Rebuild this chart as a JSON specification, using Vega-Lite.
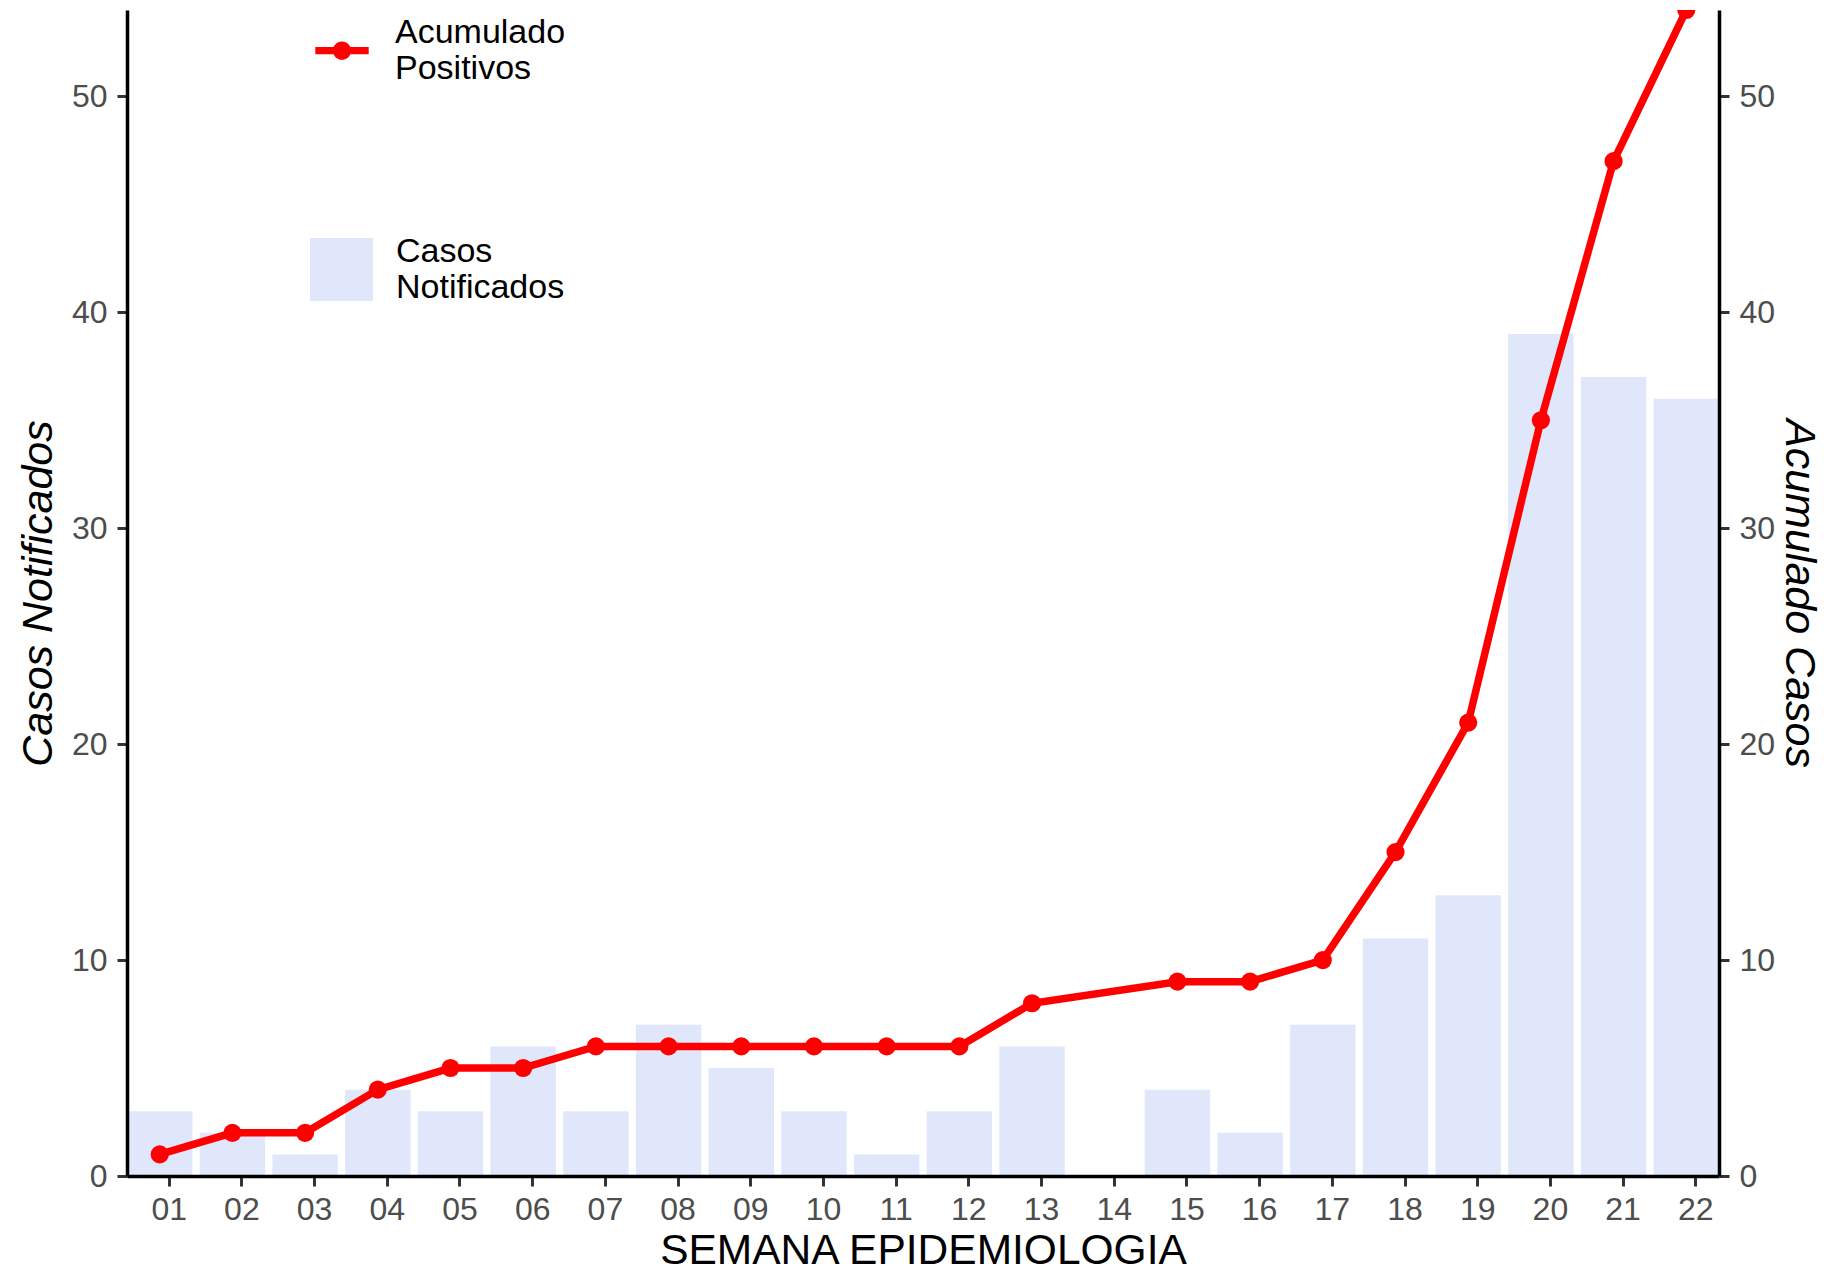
{
  "$schema": "https://vega.github.io/schema/vega-lite/v6.json",
  "width": 1592,
  "height": 1166,
  "autosize": {"type": "none"},
  "padding": {"left": 127, "top": 10, "right": 119, "bottom": 94},
  "background": "white",
  "config": {
    "view": {"stroke": null},
    "font": "Liberation Sans",
    "axis": {
      "domainColor": "black",
      "domainWidth": 3.5,
      "tickColor": "#333333",
      "tickWidth": 3,
      "tickSize": 10,
      "labelColor": "#4D4D4D",
      "labelFont": "Liberation Sans",
      "labelFontSize": 32,
      "titleFont": "Liberation Sans",
      "titleColor": "black",
      "titleFontWeight": "normal",
      "titleFontSize": 43,
      "grid": false,
      "zindex": 1
    },
    "legend": {
      "labelFont": "Liberation Sans",
      "labelFontSize": 34,
      "labelColor": "black",
      "labelLimit": 600,
      "padding": 0
    }
  },
  "data": {
    "values": [
      {"semana": "01", "casos": 3, "acumulado": 1},
      {"semana": "02", "casos": 2, "acumulado": 2},
      {"semana": "03", "casos": 1, "acumulado": 2},
      {"semana": "04", "casos": 4, "acumulado": 4},
      {"semana": "05", "casos": 3, "acumulado": 5},
      {"semana": "06", "casos": 6, "acumulado": 5},
      {"semana": "07", "casos": 3, "acumulado": 6},
      {"semana": "08", "casos": 7, "acumulado": 6},
      {"semana": "09", "casos": 5, "acumulado": 6},
      {"semana": "10", "casos": 3, "acumulado": 6},
      {"semana": "11", "casos": 1, "acumulado": 6},
      {"semana": "12", "casos": 3, "acumulado": 6},
      {"semana": "13", "casos": 6, "acumulado": 8},
      {"semana": "14", "casos": 0, "acumulado": null},
      {"semana": "15", "casos": 4, "acumulado": 9},
      {"semana": "16", "casos": 2, "acumulado": 9},
      {"semana": "17", "casos": 7, "acumulado": 10},
      {"semana": "18", "casos": 11, "acumulado": 15},
      {"semana": "19", "casos": 13, "acumulado": 21},
      {"semana": "20", "casos": 39, "acumulado": 35},
      {"semana": "21", "casos": 37, "acumulado": 47},
      {"semana": "22", "casos": 36, "acumulado": 54}
    ]
  },
  "layer": [
    {
      "mark": {"type": "bar"},
      "encoding": {
        "x": {
          "field": "semana",
          "type": "ordinal",
          "scale": {
            "domain": ["01","02","03","04","05","06","07","08","09","10","11","12","13","14","15","16","17","18","19","20","21","22"],
            "paddingInner": 0.1,
            "paddingOuter": 0
          },
          "axis": {
            "title": "SEMANA EPIDEMIOLOGIA",
            "titleFontSize": 42.5,
            "labelAngle": 0,
            "tickOffset": 9,
            "labelPadding": 8,
            "titlePadding": 4,
            "zindex": 1
          }
        },
        "y": {
          "field": "casos",
          "type": "quantitative",
          "scale": {"domain": [0, 54], "nice": false},
          "axis": {
            "title": "Casos Notificados",
            "titleFontStyle": "italic",
            "values": [0, 10, 20, 30, 40, 50],
            "labelPadding": 10,
            "titleBaseline": "alphabetic",
            "titlePadding": 19.5,
            "zindex": 1
          }
        },
        "fill": {
          "datum": "Casos Notificados",
          "type": "nominal",
          "scale": {"range": ["#E1E7FB"]},
          "legend": {
            "title": null,
            "orient": "none",
            "legendX": 183,
            "legendY": 228,
            "symbolType": "square",
            "symbolSize": 3969,
            "symbolStrokeWidth": 0,
            "symbolOpacity": 1,
            "labelOffset": 23,
            "labelExpr": "split(datum.label, ' ')",
            "encode": {
              "labels": {"update": {"dy": {"value": -17.5}}}
            }
          }
        }
      }
    },
    {
      "transform": [{"filter": "isValid(datum.acumulado)"}],
      "mark": {
        "type": "line",
        "strokeWidth": 7.5,
        "clip": true,
        "point": {"filled": true, "size": 330, "clip": true}
      },
      "encoding": {
        "x": {"field": "semana", "type": "ordinal"},
        "y": {
          "field": "acumulado",
          "type": "quantitative",
          "scale": {"domain": [0, 54], "nice": false},
          "axis": {
            "orient": "right",
            "title": "Acumulado Casos",
            "titleFontStyle": "italic",
            "values": [0, 10, 20, 30, 40, 50],
            "labelPadding": 10,
            "titleBaseline": "alphabetic",
            "titlePadding": 11,
            "zindex": 1
          }
        },
        "color": {
          "datum": "Acumulado Positivos",
          "type": "nominal",
          "scale": {"range": ["#FF0000"]},
          "legend": {
            "title": null,
            "orient": "none",
            "legendX": 188,
            "legendY": 13.7,
            "symbolType": "M-1,-0.135L1,-0.135L1,0.135L-1,0.135Z M-0.34,0A0.34,0.34,0,1,1,0.34,0A0.34,0.34,0,1,1,-0.34,0Z",
            "symbolSize": 2852,
            "symbolFillColor": "#FF0000",
            "symbolStrokeWidth": 0,
            "labelOffset": 26,
            "labelExpr": "split(datum.label, ' ')",
            "encode": {
              "symbols": {
                "update": {
                  "fill": {"value": "#FF0000"},
                  "stroke": {"value": "transparent"},
                  "strokeWidth": {"value": 0}
                }
              },
              "labels": {"update": {"dy": {"value": -17.5}}}
            }
          }
        }
      }
    }
  ],
  "resolve": {"scale": {"y": "independent", "fill": "independent", "color": "independent"}}
}
